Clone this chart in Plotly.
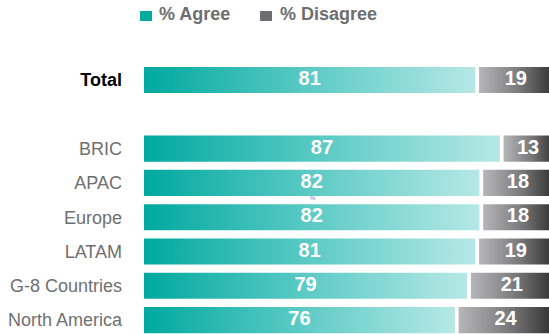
import plotly.graph_objects as go

# Survey results by region
categories = ["Total", "BRIC", "APAC", "Europe", "LATAM", "G-8 Countries", "North America"]
agree = [81, 87, 82, 82, 81, 79, 76]
disagree = [19, 13, 18, 18, 19, 21, 24]

# Row slots: an empty slot separates the Total row from the regional rows
rows = [0] + list(range(2, 2 + len(categories) - 1))

FONT = "Liberation Sans, Arial, sans-serif"
BAR_HALF = 0.38      # half bar thickness in row units
SEG_GAP = 0.9        # white gap between the two segments (x units)
AGREE_SCALE = [[0, "#00a99f"], [0.5, "#5ccac5"], [1, "#b6e8e5"]]
DISAGREE_SCALE = [[0, "#b6b6ba"], [0.5, "#7c7c7e"], [1, "#2b2b2b"]]


def bar_trace(x0, x1, y, scale):
    return go.Scatter(
        x=[x0, x1, x1, x0, x0],
        y=[y - BAR_HALF, y - BAR_HALF, y + BAR_HALF, y + BAR_HALF, y - BAR_HALF],
        mode="lines",
        line=dict(width=0),
        fill="toself",
        fillgradient=dict(type="horizontal", colorscale=scale),
        hoverinfo="skip",
        showlegend=False,
    )


fig = go.Figure()

label_x, label_y, label_t = [], [], []
for r, a, d in zip(rows, agree, disagree):
    fig.add_trace(bar_trace(0, a, r, AGREE_SCALE))
    fig.add_trace(bar_trace(a + SEG_GAP, a + SEG_GAP + d, r, DISAGREE_SCALE))
    label_x += [a / 2, a + SEG_GAP + d / 2 - 0.5]
    label_y += [r, r]
    label_t += [str(a), str(d)]

fig.add_trace(go.Scatter(
    x=label_x, y=label_y, text=label_t, mode="text",
    textposition="middle center",
    textfont=dict(family=FONT, size=20, color="white", weight="bold"),
    hoverinfo="skip", showlegend=False,
))

ticktext = ["<b><span style='color:#000000'>%s</span></b>" % categories[0]] + categories[1:]

W, H = 549, 334
ML, MT = 144, 40
plot_w, plot_h = W - ML, H - MT


def px_x(px):
    return (px - ML) / plot_w


def px_y(py):
    return 1 + (MT - py) / plot_h


legend_items = [("% Agree", "#00aaa0", 140, 157), ("% Disagree", "#6e6e72", 260, 278)]
shapes, annotations = [], []
for name, col, sq_x, tx in legend_items:
    shapes.append(dict(type="rect", xref="paper", yref="paper",
                       x0=px_x(sq_x), x1=px_x(sq_x + 12), y0=px_y(21), y1=px_y(11),
                       fillcolor=col, line=dict(width=0)))
    annotations.append(dict(text="<b>%s</b>" % name, xref="paper", yref="paper",
                            x=px_x(tx), y=px_y(14), xanchor="left", yanchor="middle",
                            showarrow=False,
                            font=dict(family=FONT, size=18, color="#6e6e70")))

annotations.append(dict(text="%", xref="paper", yref="paper", x=px_x(313), y=px_y(198),
                        xanchor="center", yanchor="middle", showarrow=False,
                        font=dict(family=FONT, size=6, color="#7a78c8")))

fig.update_layout(
    width=W, height=H,
    margin=dict(l=ML, r=0, t=MT, b=0),
    paper_bgcolor="white", plot_bgcolor="white",
    xaxis=dict(range=[0, 99], visible=False, fixedrange=True),
    yaxis=dict(
        range=[(H - 80) / 34.3, (MT - 80) / 34.3],
        tickvals=rows, ticktext=ticktext,
        showgrid=False, zeroline=False, showline=False, ticks="",
        ticklabelstandoff=21,
        tickfont=dict(family=FONT, size=18, color="#6f6f71"),
    ),
    shapes=shapes,
    annotations=annotations,
    showlegend=False,
)

fig.write_html("out.html")
